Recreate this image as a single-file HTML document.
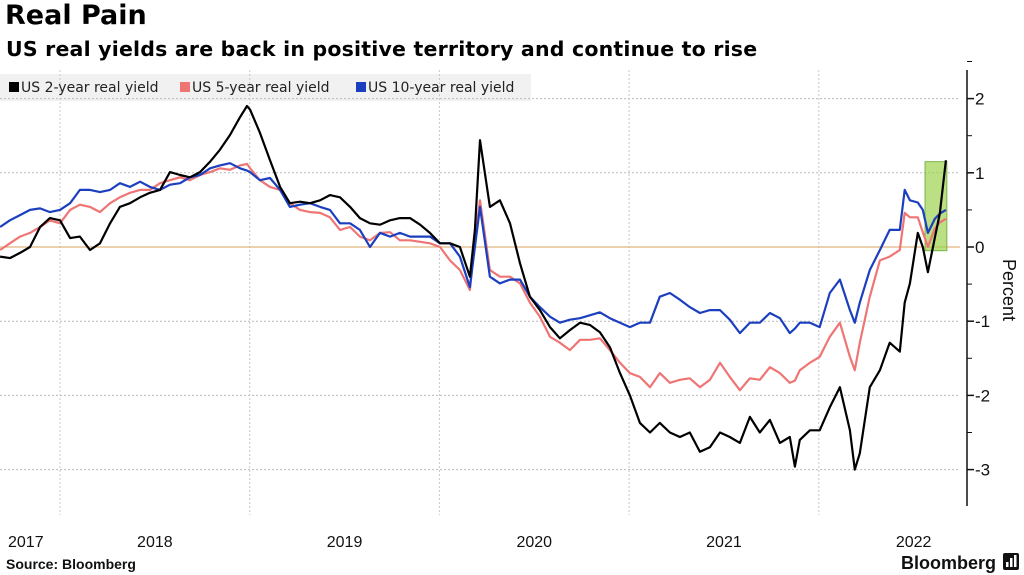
<!DOCTYPE html>
<html><head><meta charset="utf-8">
<style>
body{margin:0;width:1024px;height:575px;background:#fff;font-family:"Liberation Sans","DejaVu Sans",sans-serif;overflow:hidden;position:relative}
.t{position:absolute;left:5px;top:0px;font-size:27px;font-weight:bold;color:#000;font-family:"DejaVu Sans",sans-serif}
.s{position:absolute;left:6px;top:37px;font-size:20.5px;font-weight:bold;color:#000;font-family:"DejaVu Sans",sans-serif;letter-spacing:0.2px}
svg{position:absolute;left:0;top:0}
</style></head><body>
<div class="t">Real Pain</div>
<div class="s">US real yields are back in positive territory and continue to rise</div>
<svg id="c" width="1024" height="575"></svg>
<script>
const dates=[2017.684,2017.736,2017.789,2017.842,2017.895,2017.947,2018.000,2018.053,2018.105,2018.158,2018.211,2018.264,2018.316,2018.369,2018.422,2018.474,2018.527,2018.580,2018.633,2018.685,2018.738,2018.791,2018.843,2018.896,2018.949,2018.986,2019.002,2019.054,2019.107,2019.160,2019.212,2019.265,2019.318,2019.371,2019.423,2019.476,2019.529,2019.581,2019.634,2019.687,2019.740,2019.792,2019.845,2019.898,2019.950,2020.003,2020.056,2020.108,2020.161,2020.187,2020.214,2020.266,2020.319,2020.372,2020.425,2020.477,2020.530,2020.583,2020.635,2020.688,2020.741,2020.793,2020.846,2020.899,2020.952,2021.004,2021.057,2021.110,2021.162,2021.215,2021.268,2021.320,2021.373,2021.426,2021.479,2021.531,2021.584,2021.637,2021.689,2021.742,2021.795,2021.847,2021.874,2021.900,2021.953,2022.005,2022.058,2022.111,2022.164,2022.190,2022.216,2022.269,2022.322,2022.374,2022.427,2022.453,2022.480,2022.522,2022.548,2022.575,2022.612,2022.638,2022.670];
const y2=[-0.13,-0.15,-0.08,0,0.27,0.39,0.36,0.12,0.14,-0.04,0.05,0.32,0.54,0.59,0.67,0.73,0.77,1.01,0.97,0.94,1.01,1.15,1.31,1.51,1.75,1.9,1.85,1.54,1.17,0.81,0.59,0.61,0.59,0.63,0.70,0.67,0.54,0.39,0.32,0.30,0.36,0.39,0.39,0.30,0.19,0.05,0.05,0,-0.4,0.23,1.44,0.54,0.63,0.32,-0.22,-0.67,-0.85,-1.08,-1.23,-1.12,-1.02,-1.05,-1.15,-1.35,-1.7,-2.0,-2.37,-2.5,-2.37,-2.5,-2.56,-2.5,-2.76,-2.7,-2.5,-2.56,-2.64,-2.29,-2.5,-2.33,-2.64,-2.56,-2.96,-2.6,-2.47,-2.47,-2.16,-1.89,-2.47,-3.0,-2.78,-1.89,-1.66,-1.29,-1.41,-0.75,-0.49,0.19,0,-0.34,0.13,0.45,1.17];
const y5=[-0.04,0.05,0.14,0.19,0.27,0.36,0.32,0.5,0.57,0.54,0.47,0.59,0.67,0.73,0.77,0.77,0.86,0.9,0.94,0.9,0.97,1.01,1.06,1.04,1.1,1.12,1.06,0.9,0.81,0.77,0.59,0.5,0.47,0.46,0.4,0.23,0.27,0.14,0.09,0.19,0.2,0.09,0.09,0.07,0.05,0,-0.18,-0.31,-0.58,0.1,0.63,-0.31,-0.4,-0.4,-0.49,-0.75,-0.94,-1.21,-1.29,-1.39,-1.25,-1.25,-1.23,-1.39,-1.56,-1.7,-1.75,-1.89,-1.7,-1.83,-1.79,-1.77,-1.89,-1.79,-1.56,-1.75,-1.93,-1.77,-1.79,-1.62,-1.7,-1.83,-1.8,-1.66,-1.56,-1.48,-1.21,-1.02,-1.48,-1.66,-1.29,-0.67,-0.18,-0.13,-0.04,0.46,0.4,0.4,0.2,0,0.25,0.33,0.38];
const y10=[0.27,0.36,0.43,0.5,0.52,0.47,0.5,0.59,0.77,0.77,0.74,0.77,0.86,0.81,0.88,0.81,0.77,0.84,0.86,0.94,0.97,1.06,1.1,1.13,1.06,1.03,1.01,0.9,0.93,0.77,0.54,0.57,0.59,0.54,0.5,0.32,0.32,0.23,0,0.19,0.14,0.19,0.14,0.14,0.14,0.05,0.05,-0.13,-0.54,0.0,0.54,-0.4,-0.49,-0.44,-0.44,-0.67,-0.81,-0.94,-1.02,-0.98,-0.96,-0.92,-0.88,-0.96,-1.02,-1.08,-1.02,-1.02,-0.67,-0.62,-0.71,-0.81,-0.89,-0.85,-0.85,-0.98,-1.16,-1.02,-1.02,-0.89,-0.96,-1.16,-1.1,-1.02,-1.02,-1.08,-0.62,-0.44,-0.85,-1.02,-0.75,-0.31,-0.04,0.23,0.23,0.77,0.63,0.6,0.5,0.19,0.38,0.45,0.5];
const yTicks=[2,1,0,-1,-2,-3];
const years=[2017,2018,2019,2020,2021,2022];
const hl=[2022.56,2022.675,-0.05,1.15];

const X=t=>60+(t-2018)*189.7;
const Y=v=>247-v*74.2;
const svg=document.getElementById('c');
const NS='http://www.w3.org/2000/svg';
function mk(tag,a){const e=document.createElementNS(NS,tag);for(const k in a)e.setAttribute(k,a[k]);svg.appendChild(e);return e;}

let lb=mk('rect',{x:0,y:74,width:531,height:27,fill:'#f1f1f1'});



yTicks.forEach(v=>{
 if(v!==0){let g=mk('line',{x1:0,x2:960,y1:Y(v),y2:Y(v),stroke:'#bbb','stroke-dasharray':'2,2','stroke-width':1});
 
 }
});
years.forEach(yr=>{
 const x=X(yr);
 if(x>0&&x<960){let g=mk('line',{x1:x,x2:x,y1:70,y2:515,stroke:'#c8c8c8','stroke-dasharray':'2,2','stroke-width':1});
 
 }
 let tx=mk('text',{x:Math.max(8,X(yr+0.5)),y:547,'font-size':16,fill:'#111','text-anchor':X(yr+0.5)<30?'start':'middle'});
 tx.textContent=yr;
 
 
});
let z=mk('line',{x1:0,x2:960,y1:Y(0),y2:Y(0),stroke:'#e2b37e','stroke-width':1.3});



let hb=mk('rect',{x:X(hl[0]),y:Y(hl[3]),width:X(hl[1])-X(hl[0]),height:Y(hl[2])-Y(hl[3]),fill:'#9ed24f','fill-opacity':0.7,stroke:'#7cb342','stroke-width':1});



function line(vals,col,name){
 const d=vals.map((v,i)=>(i?'L':'M')+X(dates[i]).toFixed(1)+','+Y(v).toFixed(1)).join('');
 const p=mk('path',{d:d,fill:'none',stroke:col,'stroke-width':2.2,'stroke-linejoin':'round'});
 
 
}
line(y5,'#ef7575','series-5-year');
line(y10,'#1b3fbf','series-10-year');
line(y2,'#000','series-2-year');

let ax=mk('line',{x1:967,x2:967,y1:70,y2:506,stroke:'#111','stroke-width':1.5});


yTicks.forEach(v=>{
 let tk=mk('line',{x1:967,x2:974,y1:Y(v),y2:Y(v),stroke:'#111','stroke-width':1.5});
 
 
 let m=mk('line',{x1:967,x2:972,y1:Y(v+0.5),y2:Y(v+0.5),stroke:'#111','stroke-width':1});
 
 
 let t=mk('text',{x:975,y:Y(v)+6,'font-size':17,fill:'#111'});
 t.textContent=v<0?'-'+(-v):v;
 
 
});
let yt=mk('text',{x:1003,y:290,'font-size':18,fill:'#111','text-anchor':'middle',transform:'rotate(90 1003 290)'});
yt.textContent='Percent';



const leg=[['US 2-year real yield','#000',9],['US 5-year real yield','#ef7575',180],['US 10-year real yield','#1b3fbf',356]];
leg.forEach(l=>{
 let r=mk('rect',{x:l[2],y:82,width:10,height:10,fill:l[1]});
 
 
 let t=mk('text',{x:l[2]+12,y:92,'font-size':14,fill:'#222','font-family':'DejaVu Sans, sans-serif'});
 t.textContent=l[0];
 
 
});

let src=mk('text',{x:6,y:569,'font-size':14,'font-weight':'bold',fill:'#111'});
src.textContent='Source: Bloomberg';


let bb=mk('text',{x:996,y:569,'font-size':18,'font-weight':'bold',fill:'#111','text-anchor':'end'});
bb.textContent='Bloomberg';


let ic=mk('rect',{x:1003,y:553,width:16,height:17,rx:2,fill:'#111'});


[[1006,5],[1010,9],[1014,12]].forEach(b=>{
 let r=mk('rect',{x:b[0],y:567-b[1],width:2.5,height:b[1],fill:'#fff'});
 
 
});
</script>
</body></html>
